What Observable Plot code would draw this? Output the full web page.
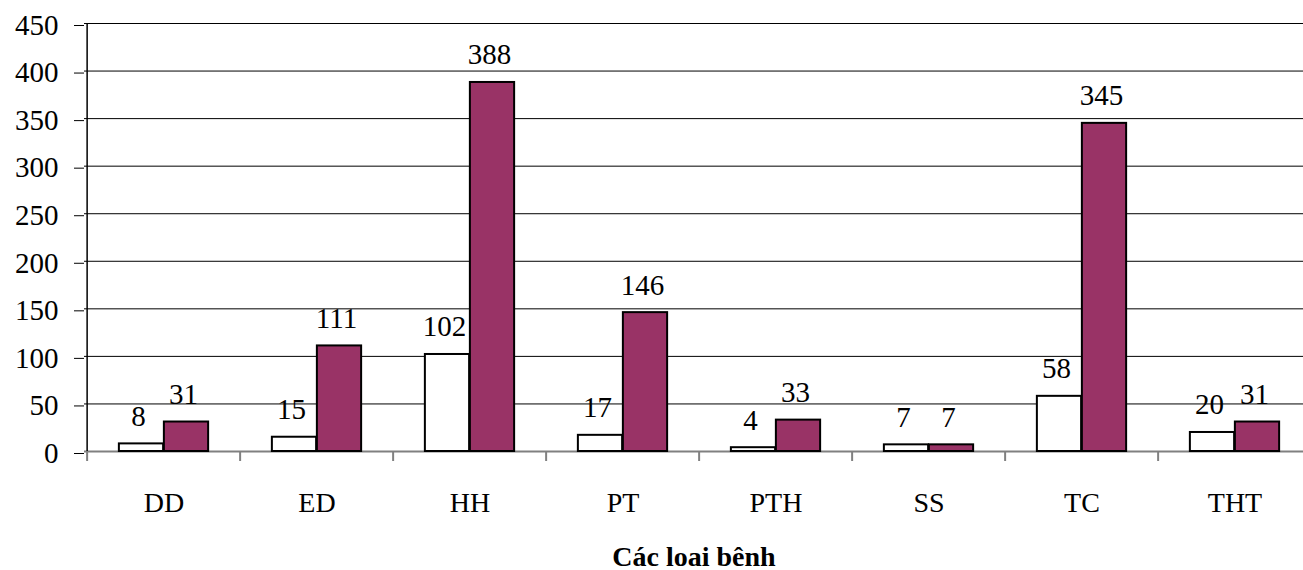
<!DOCTYPE html>
<html><head><meta charset="utf-8">
<script src="https://cdn.jsdelivr.net/npm/d3@7"></script>
<script src="https://cdn.jsdelivr.net/npm/@observablehq/plot@0.6"></script>
<style>body{margin:0;background:#fff} svg, svg text{font-family:"Liberation Serif","Times New Roman",serif !important;}</style>
</head><body><div id="chart"></div>
<script>
const categories = ["DD","ED","HH","PT","PTH","SS","TC","THT"];
const seriesA = [8,15,102,17,4,7,58,20];
const seriesB = [31,111,388,146,33,7,345,31];
const yTicks = [0,50,100,150,200,250,300,350,400,450];
const axisTitle = "Các loai bênh";

const W = 1303, H = 570, ML = 84, MT = 23, MB = 119;
const xRange = [84, 1314];
const bw = (xRange[1]-xRange[0]) / categories.length;
const barW = 45;
const rowsA = categories.map((c,i)=>({c, v: seriesA[i]}));
const rowsB = categories.map((c,i)=>({c, v: seriesB[i]}));
const font = "Liberation Serif";

const chart = Plot.plot({
  width: W, height: H,
  marginLeft: ML, marginTop: MT, marginBottom: MB, marginRight: 0,
  style: {fontFamily: font, fontSize: "28px", background: "#fff", color: "#000"},
  x: {domain: categories, range: xRange, padding: 0},
  y: {domain: [0,450], ticks: yTicks},
  marks: [
    Plot.ruleY(yTicks.filter(d=>d>0), {stroke: "#000", strokeWidth: 1}),
    Plot.ruleY([0], {stroke: "#808080", strokeWidth: 2}),
    Plot.barY(rowsA, {x: "c", y: "v", fill: "#fff", stroke: "#000", strokeWidth: 2,
      insetLeft: bw/2 - barW, insetRight: bw/2}),
    Plot.barY(rowsB, {x: "c", y: "v", fill: "#993366", stroke: "#000", strokeWidth: 2,
      insetLeft: bw/2, insetRight: bw/2 - barW}),
    Plot.text(rowsA, {x: "c", y: "v", text: d=>String(d.v), dx: -barW/2 - 3, dy: -18,
      lineAnchor: "bottom", fontSize: 29, fill: "#000", fontFamily: font}),
    Plot.text(rowsB, {x: "c", y: "v", text: d=>String(d.v), dx: barW/2 - 3, dy: -18,
      lineAnchor: "bottom", fontSize: 29, fill: "#000", fontFamily: font}),
    Plot.ruleX(categories, {x: d=>d, dx: -bw/2, y1: 0, y2: -10.5, stroke: "#808080", strokeWidth: 2}),
    Plot.ruleX([categories[0]], {x: d=>d, dx: -bw/2, y1: 0, y2: 450, stroke: "#000", strokeWidth: 1.5}),
    Plot.axisY({ticks: yTicks, tickSize: 10, tickPadding: 16, fontSize: 29, dy: 2, label: null, stroke: "#000", fontFamily: font}),
    Plot.axisX({tickSize: 0, tickPadding: 41, fontSize: 28, label: null, fontFamily: font}),
    Plot.text([axisTitle], {frameAnchor: "bottom", dy: 114, fontWeight: "bold", fontSize: 28, lineAnchor: "bottom", fill: "#000", fontFamily: font})
  ]
});
document.getElementById("chart").appendChild(chart);
</script>
</body></html>
